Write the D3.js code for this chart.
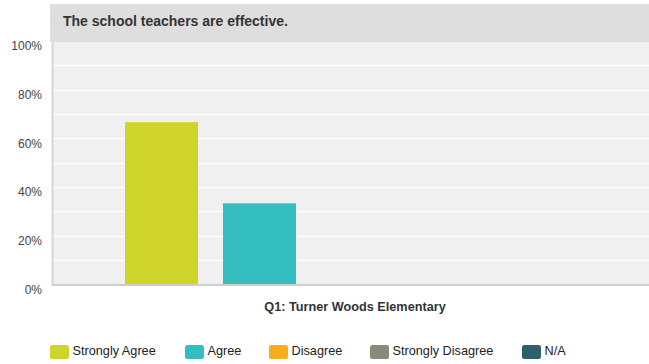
<!DOCTYPE html>
<html>
<head>
<meta charset="utf-8">
<script src="https://cdn.jsdelivr.net/npm/d3@7"></script>
<style>
  html, body { margin: 0; padding: 0; background: #fff; }
  svg { display: block; font-family: Arial, "Liberation Sans", sans-serif; }
</style>
</head>
<body>
<svg id="chart" width="649" height="364"></svg>
<script>
const title = "The school teachers are effective.";
const categories = ["Q1: Turner Woods Elementary"];
const series = ["Strongly Agree", "Agree", "Disagree", "Strongly Disagree", "N/A"];
const seriesColors = ["#cfd42a", "#33bdbf", "#f6ad1e", "#8a8a78", "#2e5f6d"];
const values = [66.67, 33.33, 0, 0, 0];   // percent, one per series, for the single category
const yTicks = [0, 20, 40, 60, 80, 100];
const yGrid = [10, 20, 30, 40, 50, 60, 70, 80, 90];

const svg = d3.select("#chart");
const W = 649, H = 364;
const plot = { left: 52, right: 649, top: 41, bottom: 284.5 };

const y = d3.scaleLinear().domain([0, 100]).range([plot.bottom, plot.top]);
const x0 = d3.scaleBand().domain(categories).range([52, 658]);
const x1 = d3.scaleBand().domain(series).range([73, 538]).paddingInner(0.255).paddingOuter(0);
const color = d3.scaleOrdinal().domain(series).range(seriesColors);

// plot background
svg.append("rect")
  .attr("x", plot.left).attr("y", plot.top)
  .attr("width", plot.right - plot.left).attr("height", plot.bottom - plot.top)
  .attr("fill", "#f0f0f0");

// gridlines
svg.append("g").selectAll("line").data(yGrid).join("line")
  .attr("x1", plot.left + 1).attr("x2", plot.right)
  .attr("y1", d => Math.round(y(d)) + 0.5).attr("y2", d => Math.round(y(d)) + 0.5)
  .attr("stroke", "#ffffff").attr("stroke-width", 1.5);

// bars
const groups = svg.append("g").selectAll("g").data(categories).join("g")
  .attr("transform", d => `translate(${x0(d)},0)`);
groups.selectAll("rect")
  .data(() => series.map((s, i) => ({ s, v: values[i] })))
  .join("rect")
  .attr("x", d => x1(d.s))
  .attr("width", x1.bandwidth())
  .attr("y", d => y(d.v))
  .attr("height", d => plot.bottom - y(d.v))
  .attr("fill", d => color(d.s));

// left axis line and baseline
svg.append("line")
  .attr("x1", 52.5).attr("x2", 52.5).attr("y1", plot.top).attr("y2", plot.bottom + 1)
  .attr("stroke", "#d6d6d6").attr("stroke-width", 2);
svg.append("line")
  .attr("x1", 52).attr("x2", plot.right).attr("y1", plot.bottom + 0.5).attr("y2", plot.bottom + 0.5)
  .attr("stroke", "#cfcfcf").attr("stroke-width", 2);

// title band
svg.append("rect")
  .attr("x", 50).attr("y", 4).attr("width", W - 50).attr("height", 38)
  .attr("fill", "#dedede");
svg.append("text")
  .attr("x", 63).attr("y", 25.5)
  .attr("font-size", 14).attr("font-weight", "bold").attr("fill", "#333")
  .text(title);

// y axis labels
const yAxis = d3.axisLeft(y).tickValues(yTicks).tickFormat(d => d + "%").tickSize(0).tickPadding(0);
const yg = svg.append("g").attr("transform", "translate(42,5)").call(yAxis);
yg.select(".domain").remove();
yg.selectAll("text").attr("font-size", 12).attr("fill", "#444")
  .attr("font-family", "Arial, 'Liberation Sans', sans-serif");

// x axis label
const xAxis = d3.axisBottom(x0).tickSize(0).tickPadding(0);
const xg = svg.append("g").attr("transform", "translate(0,302)").call(xAxis);
xg.select(".domain").remove();
xg.selectAll("text").attr("font-size", 12.7).attr("font-weight", "bold").attr("fill", "#333")
  .attr("font-family", "Arial, 'Liberation Sans', sans-serif");

// legend
const legendX = [50, 185, 269, 370, 522];
const lg = svg.append("g").selectAll("g").data(series).join("g")
  .attr("transform", (d, i) => `translate(${legendX[i]},345)`);
lg.append("rect").attr("width", 19).attr("height", 14).attr("rx", 2.5)
  .attr("fill", d => color(d));
lg.append("text").attr("x", 22.5).attr("y", 9.5)
  .attr("font-size", 12.7).attr("fill", "#222")
  .text(d => d);
</script>
</body>
</html>
